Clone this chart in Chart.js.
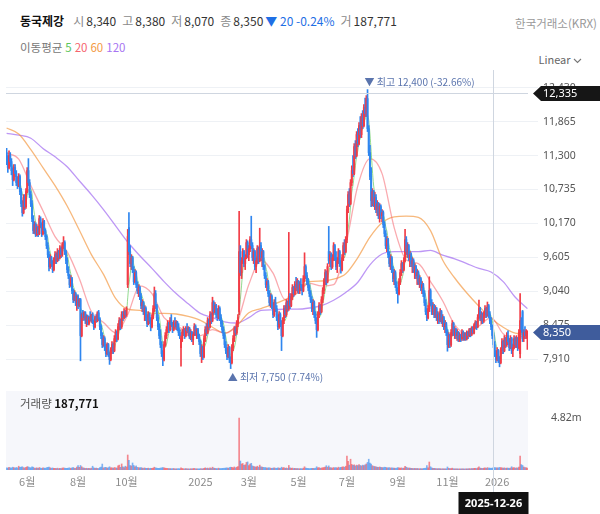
<!DOCTYPE html>
<html>
<head>
<meta charset="utf-8">
<script src="https://cdn.jsdelivr.net/npm/chart.js@4.4.1/dist/chart.umd.min.js"></script>
<style>
  body { margin: 0; width: 600px; height: 514px; background: #fff; position: relative; overflow: hidden;
         font-family: "Noto Sans CJK KR", "Noto Sans", sans-serif; }
  .abs { position: absolute; white-space: nowrap; }
  #header { left: 20px; top: 12px; font-size: 12px; color: #333; }
  #header b { font-weight: 700; color: #111; margin-right: 9px; }
  #header .lb { color: #8a8a8a; margin-right: 2px; }
  #header .v { margin-right: 6px; }
  #header .dn { color: #1f6fe5; }
  #exchange { right: 3px; top: 15px; font-size: 11.5px; color: #999; }
  #maLegend { left: 20px; top: 39px; font-size: 11.5px; color: #777; }
  #maLegend span { margin-left: 3px; }
  #scaleMode { right: 18px; top: 51px; font-size: 11px; color: #666; }
  #volLabel { left: 20px; top: 395px; font-size: 11.5px; color: #555; }
  #volLabel b { color: #111; }
  #priceCanvas { position: absolute; left: 0; top: 70px; }
  #volumeCanvas { position: absolute; left: 0; top: 388px; }
</style>
</head>
<body>
<div id="header" class="abs"></div>
<div id="exchange" class="abs"></div>
<div id="maLegend" class="abs"></div>
<div id="scaleMode" class="abs">Linear <svg width="9" height="6" viewBox="0 0 9 6"><path d="M1 1 L4.5 4.5 L8 1" stroke="#777" stroke-width="1.1" fill="none"/></svg></div>
<canvas id="priceCanvas" width="600" height="318"></canvas>
<canvas id="volumeCanvas" width="600" height="126"></canvas>
<div id="volLabel" class="abs"></div>
<script>
const stockName = "동국제강";
const exchangeName = "한국거래소(KRX)";
const maPeriods = [5, 20, 60, 120];
const maColors = ["#5cc65c", "#f5646e", "#f39a45", "#a774f2"];

// session index -> axis label
const monthTicks = [[17, "6월"], [59, "8월"], [99, "10월"], [160, "2025"], [200, "3월"],
  [241, "5월"], [281, "7월"], [323, "9월"], [364, "11월"], [405, "2026"]];
const priceTicks = [7910, 8475, 9040, 9605, 10170, 10735, 11300, 11865, 12430];

// crosshair position
const hoverIndex = 402;
const hoverDate = "2025-12-26";
const hoverPrice = 12335;

// daily [open, high, low, close]
const candles = [
[11350,11420,11150,11250],[11250,11300,11020,11100],[11100,11380,11080,11300],[11300,11350,11120,11200],[11200,11250,10980,11050],[11050,11100,10800,10900],[10900,11150,10880,11100],[11100,11150,10950,11000],[11000,11050,10800,10850],[10850,10950,10750,10800],
[10800,11000,10780,10950],[10950,10980,10650,10700],[10700,10750,10450,10500],[10500,10550,10290,10350],[10350,10650,10330,10600],[10600,10650,10400,10450],[10450,10750,10420,10700],[10700,11100,10680,11050],[11050,11250,10800,10850],[10850,10900,10600,10650],
[10650,10700,10450,10500],[10500,10550,10200,10250],[10250,10300,10000,10050],[10050,10200,10000,10150],[10150,10180,9950,9980],[9980,10150,9960,10100],[10100,10120,9950,10000],[10000,10300,9980,10250],[10250,10280,10100,10150],[10150,10180,9950,10000],
[10000,10250,9980,10200],[10200,10220,10000,10050],[10050,10080,9900,9950],[9950,9980,9750,9800],[9800,9850,9600,9650],[9650,9700,9380,9450],[9450,9650,9420,9600],[9600,9620,9450,9500],[9500,9550,9350,9400],[9400,9600,9380,9550],
[9550,9700,9500,9650],[9650,9680,9500,9550],[9550,9750,9530,9700],[9700,9720,9550,9600],[9600,9800,9580,9750],[9750,9780,9600,9650],[9650,9850,9620,9800],[9800,9950,9750,9850],[9850,9880,9650,9700],[9700,9720,9500,9550],
[9550,9600,9350,9400],[9400,9450,9250,9300],[9300,9320,9100,9150],[9150,9300,9120,9250],[9250,9270,9000,9050],[9050,9080,8850,8900],[8900,9050,8880,9000],[9000,9020,8800,8850],[8850,8980,8720,8950],[8950,8980,8750,8800],
[8800,8920,8780,8900],[8900,8920,7880,8300],[8300,8680,8280,8650],[8650,8720,8550,8600],[8600,8700,8560,8680],[8680,8700,8500,8550],[8550,8650,8450,8620],[8620,8640,8480,8500],[8500,8620,8480,8600],[8600,8700,8540,8560],
[8560,8660,8520,8640],[8640,8680,8500,8520],[8520,8560,8400,8450],[8450,8620,8430,8600],[8600,8650,8520,8550],[8550,8700,8530,8680],[8680,8720,8550,8580],[8580,8600,8400,8450],[8450,8480,8250,8300],[8300,8350,8100,8150],
[8150,8300,8120,8250],[8250,8280,8050,8100],[8100,8150,7950,8000],[8000,8180,7980,8150],[8150,8170,7950,7980],[7980,8020,7820,7900],[7900,8100,7880,8050],[8050,8200,8000,8150],[8150,8180,8000,8050],[8050,8300,8030,8250],
[8250,8400,8200,8350],[8350,8380,8200,8250],[8250,8500,8230,8450],[8450,8600,8400,8550],[8550,8580,8400,8450],[8450,8700,8420,8650],[8650,8700,8550,8600],[8600,8750,8580,8700],[8700,8720,8600,8650],[8650,8780,8620,8750],
[9150,10070,9100,9950],[10100,10350,9650,9700],[9700,9800,9450,9500],[9500,9650,9400,9600],[9600,9620,9350,9400],[9400,9450,9150,9200],[9200,9400,9180,9350],[9350,9380,9100,9150],[9150,9200,9000,9050],[9050,9150,8950,9100],
[9100,9120,8900,8950],[8950,9000,8750,8800],[8800,8900,8700,8850],[8850,8870,8650,8700],[8700,8800,8550,8750],[8750,8780,8550,8600],[8600,8650,8450,8500],[8500,8700,8480,8650],[8650,8680,8500,8550],[8550,8600,8380,8450],
[8450,8650,8430,8600],[8600,8800,8580,8750],[8750,9110,8700,9000],[9000,9050,8750,8800],[8800,8820,8550,8600],[8600,8650,8400,8450],[8450,8500,8250,8300],[8300,8400,8100,8150],[8150,8200,7950,8000],[8000,8050,7800,7900],
[7900,8200,7880,8150],[8150,8350,8120,8300],[8300,8450,8250,8400],[8400,8550,8350,8500],[8500,8520,8350,8400],[8400,8600,8380,8550],[8550,8650,8450,8480],[8480,8520,8350,8400],[8400,8550,8380,8500],[8500,8600,8420,8450],
[8450,8550,8400,8520],[8520,8540,8380,8420],[8420,8500,8300,8350],[8350,8400,8250,8300],[8100,8300,7790,8250],[8250,8400,8200,8350],[8350,8450,8300,8400],[8400,8420,8250,8300],[8300,8450,8280,8420],[8420,8500,8350,8380],
[8380,8450,8300,8420],[8420,8440,8250,8280],[8280,8400,8230,8350],[8350,8370,8200,8230],[8230,8350,8150,8320],[8320,8500,8300,8450],[8450,8480,8300,8330],[8330,8420,8250,8400],[8400,8420,8250,8270],[8270,8320,8150,8200],
[8200,8230,7950,8000],[8000,8150,7850,8100],[8100,8120,7900,7950],[7950,8300,7930,8250],[8250,8450,8200,8400],[8400,8500,8300,8350],[8350,8600,8330,8550],[8550,8580,8400,8450],[8450,8700,8430,8650],[8650,8680,8500,8550],
[8550,8940,8530,8850],[8850,8880,8650,8700],[8700,8850,8680,8800],[8800,8820,8600,8650],[8650,8750,8550,8600],[8600,8800,8580,8750],[8750,8780,8550,8600],[8600,8650,8450,8500],[8500,8550,8350,8400],[8400,8450,8250,8300],
[8300,8350,8100,8150],[8150,8200,8000,8050],[8050,8100,7900,7950],[7950,8150,7930,8100],[8100,8120,7850,7900],[7900,7950,7750,7850],[7850,8150,7830,8100],[8100,8300,8050,8250],[8250,8450,8200,8400],[8400,8450,8300,8350],
[8350,8550,8320,8500],[8500,8650,8450,8600],[8700,10370,8650,9700],[9700,9800,9300,9350],[9350,9600,9250,9550],[9550,9750,9500,9700],[9700,9720,9450,9500],[9500,9650,9400,9600],[9600,9900,9580,9850],[9850,9880,9600,9650],
[9650,9800,9550,9750],[9750,9950,9700,9900],[9900,10290,9750,9800],[9800,9850,9550,9600],[9600,9750,9500,9700],[9700,9720,9400,9450],[9450,9600,9350,9550],[9550,9800,9500,9750],[9750,9780,9500,9550],[9550,10090,9530,9800],
[9800,9850,9550,9600],[9600,9750,9450,9700],[9700,9720,9400,9450],[9450,9480,9250,9300],[9300,9350,9100,9150],[9150,9250,9050,9200],[9200,9220,8950,9000],[9000,9050,8800,8850],[8850,9000,8770,8950],[8950,8980,8750,8800],
[8800,8850,8600,8650],[8650,8900,8620,8850],[8850,8940,8700,8750],[8750,8800,8550,8600],[8600,8650,8400,8450],[8450,8700,8420,8650],[8650,8680,8450,8500],[8500,8550,8050,8300],[8300,8600,8280,8550],[8550,8800,8500,8750],
[8750,8800,8600,8650],[8650,8900,8620,8850],[8850,8880,8700,8750],[8750,10020,8720,8950],[8950,9000,8750,8800],[8800,9000,8780,8950],[8950,9150,8900,9100],[9100,9120,8950,9000],[9000,9200,8980,9150],[9150,9270,9050,9100],
[9100,9250,9020,9200],[9200,9220,9000,9050],[9050,9200,9000,9150],[9150,9250,9050,9100],[9100,9150,8980,9050],[9050,9300,9030,9250],[9250,9680,9200,9450],[9450,9480,9250,9300],[9300,9350,9150,9200],[9200,9250,9050,9100],
[9100,9150,8950,9000],[9000,9050,8850,8900],[8900,8950,8700,8750],[8750,8900,8650,8850],[8850,8880,8600,8650],[8650,8700,8500,8550],[8550,8600,8270,8400],[8400,8700,8380,8650],[8650,8850,8600,8800],[8800,8820,8650,8700],
[8700,8950,8680,8900],[8900,9100,8850,9050],[9050,9250,9000,9200],[9200,9400,9150,9350],[9350,9380,9150,9200],[9200,9500,9180,9450],[9700,10120,9500,9550],[9550,9700,9450,9650],[9650,9680,9400,9450],[9450,9650,9420,9600],
[9600,9850,9550,9800],[9800,9820,9550,9600],[9600,9700,9400,9450],[9450,9600,9350,9550],[9550,9750,9500,9700],[9700,9720,9450,9500],[9500,9550,9340,9400],[9400,9650,9380,9600],[9600,9850,9550,9800],[9800,9900,9650,9700],
[9700,9950,9680,9900],[9900,10460,9850,10400],[10400,10700,10350,10650],[10650,10750,10450,10500],[10500,10900,10480,10850],[10850,11130,10800,11050],[11050,11300,10950,11000],[11000,11500,10980,11450],[11450,11550,11250,11300],[11300,11700,11280,11650],
[11650,11750,11450,11500],[11500,11850,11480,11800],[11800,11950,11600,11650],[11650,12000,11600,11950],[11950,12050,11750,11800],[11800,12150,11780,12100],[12100,12260,11950,12000],[12000,12300,11950,12250],[12250,12400,11700,11750],[11750,11800,11300,11350],
[11350,11470,10900,10950],[10950,11100,10450,10550],[10550,10750,10460,10700],[10700,10720,10450,10500],[10500,10690,10400,10600],[10600,10650,10350,10400],[10400,10550,10300,10500],[10500,10520,10250,10300],[10300,10500,10190,10450],[10450,10480,10250,10300],
[10300,10400,10200,10350],[10350,10380,10100,10150],[10150,10200,9950,10000],[10000,10050,9750,9800],[9800,9950,9700,9900],[9900,9920,9600,9650],[9650,9700,9450,9500],[9500,9650,9400,9600],[9600,9620,9350,9400],[9400,9450,9200,9250],
[9250,9400,9150,9350],[9350,9380,9100,9150],[9150,9200,9000,9050],[9050,9100,8840,9000],[9000,9250,8980,9200],[9200,9400,9150,9350],[9350,9550,9300,9500],[9500,9520,9350,9400],[9400,9600,9380,9550],[9550,10070,9530,9900],
[9900,9950,9650,9700],[9700,9850,9600,9800],[9800,9820,9550,9600],[9600,9700,9450,9650],[9650,9680,9450,9500],[9500,9600,9350,9550],[9550,9580,9350,9400],[9400,9500,9250,9450],[9450,9470,9250,9300],[9300,9400,9150,9350],
[9350,9380,9150,9200],[9200,9300,9100,9250],[9250,9270,9050,9100],[9100,9200,9000,9150],[9150,9170,8950,9000],[9000,9050,8800,8850],[8850,8900,8650,8700],[8700,8750,8550,8600],[8600,8800,8580,8750],[8750,9280,8700,9050],
[9050,9080,8800,8850],[8850,8900,8650,8700],[8700,8850,8650,8800],[8800,8820,8600,8650],[8650,8800,8600,8750],[8750,8770,8550,8600],[8600,8700,8500,8650],[8650,8680,8500,8550],[8550,8750,8530,8700],[8700,8720,8500,8550],
[8550,8650,8450,8600],[8600,8620,8400,8450],[8450,8550,8350,8500],[8500,8520,8300,8350],[8350,8400,8040,8150],[8150,8350,8100,8300],[8300,8320,8100,8150],[8150,8400,8120,8350],[8350,8550,8300,8500],[8500,8520,8300,8350],
[8350,8450,8250,8400],[8400,8420,8250,8300],[8300,8400,8220,8350],[8350,8370,8200,8250],[8250,8350,8200,8300],[8300,8320,8200,8250],[8250,8400,8220,8350],[8350,8380,8220,8280],[8280,8350,8220,8330],[8330,8350,8220,8250],
[8250,8380,8230,8350],[8350,8370,8250,8300],[8300,8420,8280,8400],[8400,8420,8280,8320],[8320,8450,8300,8430],[8430,8450,8330,8350],[8350,8500,8330,8480],[8480,8550,8420,8520],[8520,8540,8400,8450],[8450,8650,8430,8600],
[8600,8890,8580,8750],[8750,8770,8550,8600],[8600,8700,8500,8650],[8650,8680,8500,8550],[8550,8700,8520,8650],[8650,8800,8600,8750],[8750,8770,8600,8650],[8650,8860,8620,8800],[8800,8820,8600,8650],[8650,8700,8500,8550],
[8550,8600,8400,8450],[8450,8480,8250,8300],[8300,8350,8100,8150],[8150,8200,7950,8000],[8000,8050,7850,7900],[7900,8100,7880,8050],[8050,8070,7850,7900],[7900,7950,7780,7850],[7850,8100,7830,8050],[8050,8250,8000,8200],
[8200,8220,8000,8050],[8050,8300,8030,8250],[8250,8270,8100,8150],[8150,8350,8120,8300],[8300,8380,8150,8200],[8200,8250,8050,8100],[8100,8300,8080,8250],[8250,8270,8000,8050],[8050,8150,7950,8100],[8100,8300,8080,8250],
[8250,8280,8100,8150],[8150,8300,8100,8250],[8250,8270,8050,8100],[8100,8400,8080,8350],[8000,9000,7930,8550],[8550,8600,8350,8400],[8700,8720,8200,8250],[8250,8400,8200,8350],[8350,8450,8250,8300],[8300,8400,8250,8370],
[8340,8380,8070,8350]
];

// daily volume (shares)
const volumes = [
210000,180000,240000,200000,190000,260000,220000,180000,230000,200000,
350000,240000,270000,300000,220000,190000,250000,310000,290000,230000,
200000,300000,260000,180000,170000,200000,160000,230000,180000,150000,
190000,170000,160000,220000,240000,270000,200000,170000,190000,160000,
150000,140000,170000,130000,160000,140000,180000,200000,170000,150000,
160000,180000,200000,150000,190000,230000,170000,160000,280000,400000,
250000,420000,300000,200000,170000,150000,160000,140000,150000,130000,
170000,350000,200000,160000,180000,150000,140000,230000,260000,550000,
200000,230000,250000,180000,220000,300000,210000,190000,170000,230000,
200000,180000,380000,450000,250000,560000,300000,220000,350000,280000,
1390000,900000,400000,380000,650000,420000,300000,380000,250000,220000,
200000,230000,180000,170000,190000,160000,150000,170000,140000,160000,
150000,180000,260000,200000,170000,160000,150000,180000,200000,230000,
190000,170000,160000,150000,130000,140000,120000,130000,140000,120000,
110000,120000,130000,110000,190000,140000,120000,110000,130000,120000,
110000,100000,120000,110000,130000,150000,120000,110000,120000,100000,
130000,120000,110000,150000,200000,160000,180000,140000,210000,150000,
260000,180000,150000,140000,130000,170000,140000,130000,150000,160000,
170000,180000,200000,160000,230000,260000,240000,210000,280000,200000,
260000,320000,4820000,830000,560000,600000,430000,480000,700000,750000,
420000,550000,620000,380000,330000,300000,280000,350000,260000,450000,
300000,260000,250000,230000,220000,180000,200000,210000,170000,160000,
180000,200000,170000,160000,190000,170000,150000,260000,200000,220000,
160000,190000,150000,420000,200000,160000,180000,140000,150000,130000,
140000,130000,120000,130000,120000,170000,300000,180000,150000,140000,
130000,140000,150000,160000,140000,170000,300000,200000,220000,160000,
190000,210000,230000,280000,400000,260000,380000,220000,200000,190000,
230000,200000,220000,180000,260000,210000,240000,280000,300000,250000,
350000,1300000,800000,450000,1000000,520000,430000,480000,380000,450000,
400000,500000,420000,380000,450000,400000,480000,560000,700000,1000000,
650000,550000,400000,350000,320000,300000,260000,250000,280000,240000,
230000,220000,260000,250000,210000,200000,220000,190000,200000,180000,
170000,160000,180000,220000,190000,170000,200000,160000,180000,350000,
260000,200000,180000,170000,160000,150000,140000,150000,130000,140000,
130000,120000,130000,120000,140000,160000,170000,420000,200000,740000,
300000,200000,160000,150000,140000,130000,120000,130000,120000,110000,
120000,110000,120000,110000,280000,160000,130000,140000,170000,120000,
110000,100000,110000,100000,110000,100000,120000,110000,100000,110000,
120000,110000,130000,120000,140000,130000,150000,160000,140000,200000,
300000,180000,160000,150000,170000,200000,160000,220000,180000,170000,
160000,180000,200000,230000,210000,190000,200000,240000,220000,210000,
170000,200000,160000,180000,170000,150000,190000,300000,200000,220000,
170000,200000,190000,260000,1300000,500000,420000,280000,230000,210000,
187771
];

// moving averages, one value every 10 sessions
const maStep = 10;
const ma20Values = [11340,11240,10800,10380,9950,9700,9250,8700,8520,8350,8650,9130,9000,8600,8480,8340,8300,8400,8340,8500,
  9150,9560,9340,8900,9010,9170,9130,9150,9800,10800,11250,11000,10100,9560,9500,9200,8880,8480,8330,8460,8600,8330,8220,8390];
const ma60Values = [11760,11660,11400,11100,10800,10460,10060,9650,9320,8920,8740,8720,8670,8670,8660,8620,8555,8440,8340,8460,
  8680,8750,8820,8900,9010,9200,9210,9240,9330,9600,9940,10180,10280,10290,10270,10050,9560,9260,9010,8790,8590,8440,8340,8320];
const ma120Values = [11670,11640,11590,11420,11280,11115,10880,10650,10400,10130,9860,9630,9420,9200,9000,8830,8670,8600,8530,8510,
  8600,8720,8730,8740,8740,8760,8800,8890,9020,9190,9480,9660,9700,9700,9700,9720,9640,9580,9500,9420,9360,9200,8940,8750];

const UP = "#f23c46";
const DOWN = "#2f86ef";
const fmt = v => v.toLocaleString("en-US");
const n = candles.length;
const isUp = i => candles[i][3] >= candles[i][0];

// header
const last = candles[n - 1];
const prevClose = candles[n - 2][3];
const diff = last[3] - prevClose;
const pct = (diff / prevClose * 100).toFixed(2);
document.getElementById("header").innerHTML =
  `<b>${stockName}</b>` +
  `<span class="lb">시</span><span class="v">${fmt(last[0])}</span>` +
  `<span class="lb">고</span><span class="v">${fmt(last[1])}</span>` +
  `<span class="lb">저</span><span class="v">${fmt(last[2])}</span>` +
  `<span class="lb">종</span><span class="v" style="margin-right:2px">${fmt(last[3])}</span>` +
  `<span class="dn">${diff < 0 ? "▼" : "▲"} ${fmt(Math.abs(diff))} ${pct}%</span>` +
  `<span class="lb" style="margin-left:6px">거</span><span class="v">${fmt(volumes[n - 1])}</span>`;
document.getElementById("exchange").textContent = exchangeName;
document.getElementById("maLegend").innerHTML = "이동평균" +
  maPeriods.map((p, k) => `<span style="color:${maColors[k]}">${p}</span>`).join("");
document.getElementById("volLabel").innerHTML = `거래량 <b>${fmt(volumes[n - 1])}</b>`;

// moving averages
const ma5 = [];
for (let i = maPeriods[0] - 1; i < n; i++) {
  let s = 0;
  for (let k = 0; k < maPeriods[0]; k++) s += candles[i - k][3];
  ma5.push({ x: i, y: s / maPeriods[0] });
}
const sparse = vals => vals.map((v, k) => ({ x: Math.min(k * maStep, n - 1), y: v }));

// extremes for the markers
let hiIdx = 0, loIdx = 0;
candles.forEach((c, i) => {
  if (c[1] > candles[hiIdx][1]) hiIdx = i;
  if (c[2] < candles[loIdx][2]) loIdx = i;
});

// keep chart areas fixed: drop the label padding chart.js adds at scale ends
const noEdgePad = axis => {
  axis.paddingTop = 0; axis.paddingBottom = 0; axis.paddingLeft = 0; axis.paddingRight = 0;
};

const xScale = {
  type: "linear", min: -0.5, max: n - 0.5, offset: false,
  grid: { display: false }, border: { display: false }
};

function badge(ctx, y, text, color) {
  ctx.save();
  ctx.fillStyle = color;
  ctx.beginPath();
  ctx.moveTo(533, y);
  ctx.lineTo(541, y - 7.5);
  ctx.lineTo(600, y - 7.5);
  ctx.lineTo(600, y + 7.5);
  ctx.lineTo(541, y + 7.5);
  ctx.closePath();
  ctx.fill();
  ctx.fillStyle = "#fff";
  ctx.font = "11px 'Noto Sans', sans-serif";
  ctx.textBaseline = "middle";
  ctx.fillText(text, 543, y + 0.5);
  ctx.restore();
}

const priceOverlay = {
  id: "priceOverlay",
  afterDatasetsDraw(chart) {
    const { ctx, chartArea: a, scales: { x, y } } = chart;
    ctx.save();
    // crosshair
    ctx.strokeStyle = "#cfd6e0";
    ctx.lineWidth = 1;
    const cx = Math.round(x.getPixelForValue(hoverIndex)) + 0.5;
    const cy = Math.round(y.getPixelForValue(hoverPrice)) + 0.5;
    ctx.beginPath();
    ctx.moveTo(cx, 0); ctx.lineTo(cx, chart.height);
    ctx.moveTo(a.left, cy); ctx.lineTo(a.right, cy);
    ctx.stroke();
    // high / low markers
    ctx.font = "10px 'Noto Sans CJK KR', sans-serif";
    ctx.fillStyle = "#5a74ad";
    ctx.textBaseline = "middle";
    const hx = x.getPixelForValue(hiIdx), hy = y.getPixelForValue(candles[hiIdx][1]);
    const hiPct = ((last[3] - candles[hiIdx][1]) / candles[hiIdx][1] * 100).toFixed(2);
    ctx.fillText(`▼ 최고 ${fmt(candles[hiIdx][1])} (${hiPct}%)`, hx - 3, hy - 7);
    const lx = x.getPixelForValue(loIdx), ly = y.getPixelForValue(candles[loIdx][2]);
    const loPct = ((last[3] - candles[loIdx][2]) / candles[loIdx][2] * 100).toFixed(2);
    ctx.fillText(`▲ 최저 ${fmt(candles[loIdx][2])} (${loPct}%)`, lx - 3, ly + 9);
    ctx.restore();
    badge(ctx, y.getPixelForValue(hoverPrice), fmt(hoverPrice), "#161616");
    badge(ctx, y.getPixelForValue(last[3]), fmt(last[3]), "#3f5c9c");
  }
};

new Chart(document.getElementById("priceCanvas"), {
  type: "bar",
  data: {
    datasets: [
      { label: "wick", data: candles.map((c, i) => ({ x: i, y: [c[2], c[1]] })), grouped: false,
        barThickness: 1, backgroundColor: ctx => isUp(ctx.dataIndex) ? UP : DOWN, order: 1 },
      { label: "body", data: candles.map((c, i) => ({ x: i, y: [c[0], c[3]] })), grouped: false,
        barThickness: 1.3, minBarLength: 1, backgroundColor: ctx => isUp(ctx.dataIndex) ? UP : DOWN, order: 0 },
      { type: "line", label: "MA5", data: ma5, borderColor: "rgba(110,205,105,0.75)", borderWidth: 1,
        pointRadius: 0, tension: 0.3, order: 2 },
      { type: "line", label: "MA20", data: sparse(ma20Values), borderColor: "rgba(245,100,110,0.55)", borderWidth: 1.3,
        pointRadius: 0, cubicInterpolationMode: "monotone", order: 3 },
      { type: "line", label: "MA60", data: sparse(ma60Values), borderColor: "rgba(243,154,69,0.7)", borderWidth: 1.3,
        pointRadius: 0, cubicInterpolationMode: "monotone", order: 4 },
      { type: "line", label: "MA120", data: sparse(ma120Values), borderColor: "rgba(167,116,242,0.75)", borderWidth: 1.3,
        pointRadius: 0, cubicInterpolationMode: "monotone", order: 5 }
    ]
  },
  options: {
    responsive: false, animation: false, devicePixelRatio: 1,
    layout: { padding: { left: 6, top: 10, bottom: 2, right: 0 } },
    plugins: { legend: { display: false }, tooltip: { enabled: false } },
    scales: {
      x: { ...xScale, display: false },
      y: {
        position: "right", min: 7460, max: 12560,
        afterBuildTicks: axis => { axis.ticks = priceTicks.map(v => ({ value: v })); },
        afterFit: axis => { axis.width = 72; noEdgePad(axis); },
        grid: { color: "#eef1f5", tickLength: 10, tickColor: "#eef1f5" },
        border: { display: false },
        ticks: { color: "#555", font: { size: 10.5, family: "'Noto Sans', sans-serif" }, padding: 5,
                 callback: v => fmt(v) }
      }
    }
  },
  plugins: [priceOverlay]
});

const maxVol = Math.max(...volumes);
const volumeOverlay = {
  id: "volumeOverlay",
  beforeDatasetsDraw(chart) {
    const { ctx, chartArea: a } = chart;
    ctx.save();
    ctx.fillStyle = "#f6f7fb";
    ctx.fillRect(a.left, a.top, a.right - a.left, a.bottom - a.top);
    ctx.restore();
  },
  afterDatasetsDraw(chart) {
    const { ctx, scales: { x } } = chart;
    const cx = Math.round(x.getPixelForValue(hoverIndex)) + 0.5;
    ctx.save();
    ctx.strokeStyle = "#cfd6e0";
    ctx.beginPath();
    ctx.moveTo(cx, 0); ctx.lineTo(cx, 104);
    ctx.stroke();
    ctx.fillStyle = "#111";
    ctx.fillRect(cx - 35, 104, 70, 22);
    ctx.fillStyle = "#fff";
    ctx.font = "bold 11px 'Noto Sans', sans-serif";
    ctx.textAlign = "center";
    ctx.textBaseline = "middle";
    ctx.fillText(hoverDate, cx, 115.5);
    ctx.restore();
  }
};

new Chart(document.getElementById("volumeCanvas"), {
  type: "bar",
  data: {
    datasets: [{
      data: volumes.map((v, i) => ({ x: i, y: v })), barThickness: 1,
      backgroundColor: ctx => isUp(ctx.dataIndex) ? "rgba(242,60,70,0.6)" : "rgba(47,134,239,0.6)"
    }]
  },
  options: {
    responsive: false, animation: false, devicePixelRatio: 1,
    layout: { padding: { left: 6, top: 3, bottom: 0, right: 0 } },
    plugins: { legend: { display: false }, tooltip: { enabled: false } },
    scales: {
      x: {
        ...xScale,
        afterBuildTicks: axis => { axis.ticks = monthTicks.map(t => ({ value: t[0] })); },
        afterFit: axis => { axis.height = 44; noEdgePad(axis); },
        ticks: { autoSkip: false, maxRotation: 0, color: "#8c8c8c", padding: 5,
                 font: { size: 11, family: "'Noto Sans CJK KR', sans-serif" },
                 callback: v => (monthTicks.find(t => t[0] === v) || [0, ""])[1] },
        grid: { display: false, drawTicks: false }
      },
      y: {
        position: "right", min: 0, max: maxVol * 1.52,
        afterBuildTicks: axis => { axis.ticks = [{ value: maxVol }]; },
        afterFit: axis => { axis.width = 72; noEdgePad(axis); },
        grid: { display: false },
        border: { display: false },
        ticks: { color: "#555", font: { size: 10.5, family: "'Noto Sans', sans-serif" }, padding: 15,
                 callback: v => (v / 1e6).toFixed(2) + "m" }
      }
    }
  },
  plugins: [volumeOverlay]
});
</script>
</body>
</html>
